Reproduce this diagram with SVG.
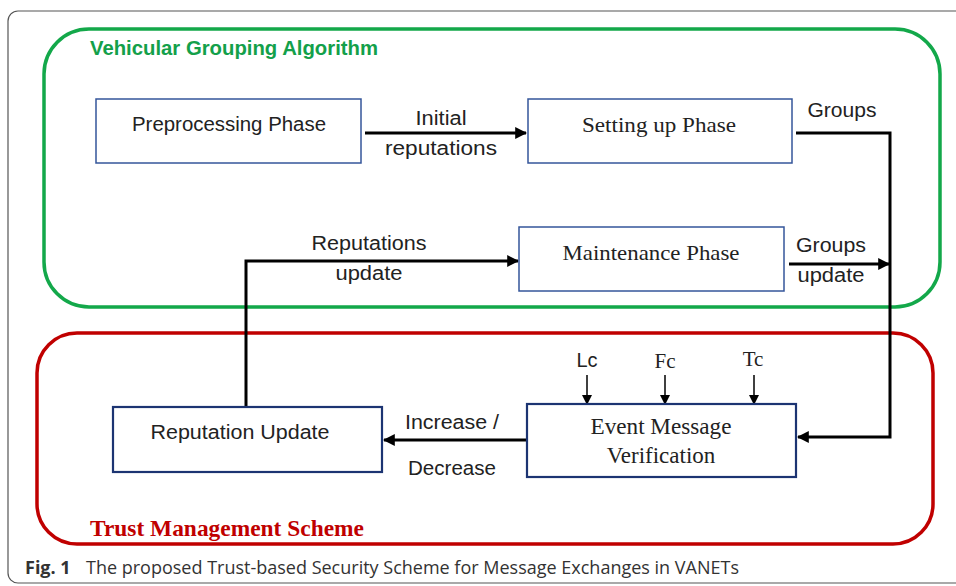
<svg xmlns="http://www.w3.org/2000/svg" width="956" height="586" viewBox="0 0 956 586">
<defs>
<marker id="ah" viewBox="0 0 10 10" refX="9" refY="5" markerWidth="4" markerHeight="4" orient="auto" markerUnits="strokeWidth"><path d="M0,0 L10,5 L0,10 Z" fill="#000"/></marker>
<marker id="ahs" viewBox="0 0 10 10" refX="9" refY="5" markerWidth="7" markerHeight="7" orient="auto" markerUnits="strokeWidth"><path d="M0,0 L10,5 L0,10 Z" fill="#000"/></marker>
<style>
.sans{font-family:"Liberation Sans",Arial,sans-serif;fill:#222;}
.serif{font-family:"Liberation Serif","Times New Roman",serif;fill:#222;}
.box{fill:#fff;stroke:#34569a;stroke-width:1.5;}
.box2{fill:#fff;stroke:#1c3472;stroke-width:2.2;}
.conn{fill:none;stroke:#000;stroke-width:3;}
.thin{fill:none;stroke:#000;stroke-width:1.5;}
</style>
</defs>
<rect x="0" y="0" width="956" height="586" fill="#fff"/>
<rect x="8" y="11" width="970" height="572" rx="10" fill="none" stroke="#555" stroke-width="1.2"/>
<g id="group-vga">
<rect x="44" y="29" width="896" height="278" rx="45" fill="none" stroke="#13a84a" stroke-width="3.5"/>
<text x="90" y="55" font-family="Liberation Sans,Arial,sans-serif" font-weight="bold" font-size="20" fill="#13a04a" textLength="288" lengthAdjust="spacingAndGlyphs">Vehicular Grouping Algorithm</text>
</g>
<g id="group-tms">
<rect x="37" y="333" width="896" height="211" rx="40" fill="none" stroke="#c00000" stroke-width="3.5"/>
<text x="90" y="536" font-family="Liberation Serif,'Times New Roman',serif" font-weight="bold" font-size="23" fill="#c00000" textLength="274" lengthAdjust="spacingAndGlyphs">Trust Management Scheme</text>
</g>
<g id="connectors">
<line class="conn" x1="365" y1="133" x2="526" y2="133" marker-end="url(#ah)"/>
<polyline class="conn" points="796,133 890,133 890,437 798,437" marker-end="url(#ah)"/>
<line class="conn" x1="789" y1="264" x2="889" y2="264" marker-end="url(#ah)"/>
<polyline class="conn" points="246,407 246,261 518,261" marker-end="url(#ah)"/>
<line class="conn" x1="527" y1="440" x2="384" y2="440" marker-end="url(#ah)"/>
<line class="thin" x1="587" y1="375" x2="587" y2="404" marker-end="url(#ahs)"/>
<line class="thin" x1="665" y1="375" x2="665" y2="404" marker-end="url(#ahs)"/>
<line class="thin" x1="754" y1="375" x2="754" y2="404" marker-end="url(#ahs)"/>
<text class="sans" x="441" y="125" font-size="20" text-anchor="middle" textLength="51" lengthAdjust="spacingAndGlyphs">Initial</text>
<text class="sans" x="441" y="155" font-size="20" text-anchor="middle" textLength="112" lengthAdjust="spacingAndGlyphs">reputations</text>
<text class="sans" x="842" y="117" font-size="20" text-anchor="middle" textLength="69" lengthAdjust="spacingAndGlyphs">Groups</text>
<text class="sans" x="831" y="252" font-size="20" text-anchor="middle" textLength="70" lengthAdjust="spacingAndGlyphs">Groups</text>
<text class="sans" x="831" y="282" font-size="20" text-anchor="middle" textLength="67" lengthAdjust="spacingAndGlyphs">update</text>
<text class="sans" x="369" y="250" font-size="20" text-anchor="middle" textLength="115" lengthAdjust="spacingAndGlyphs">Reputations</text>
<text class="sans" x="369" y="280" font-size="20" text-anchor="middle" textLength="67" lengthAdjust="spacingAndGlyphs">update</text>
<text class="sans" x="452" y="429" font-size="20" text-anchor="middle" textLength="94" lengthAdjust="spacingAndGlyphs">Increase /</text>
<text class="sans" x="452" y="475" font-size="20" text-anchor="middle" textLength="88" lengthAdjust="spacingAndGlyphs">Decrease</text>
<text class="sans" x="587" y="367" font-size="20" text-anchor="middle">Lc</text>
<text class="serif" x="665" y="368" font-size="21" text-anchor="middle">Fc</text>
<text class="serif" x="753" y="366" font-size="21" text-anchor="middle">Tc</text>
</g>
<g id="preprocessing">
<rect class="box" x="96" y="99" width="265" height="64"/>
<text class="sans" x="229" y="131" font-size="20" text-anchor="middle" textLength="194" lengthAdjust="spacingAndGlyphs">Preprocessing Phase</text>
</g>
<g id="settingup">
<rect class="box" x="528" y="99" width="264" height="64"/>
<text class="serif" x="659" y="132" font-size="22" text-anchor="middle" textLength="154" lengthAdjust="spacingAndGlyphs">Setting up Phase</text>
</g>
<g id="maintenance">
<rect class="box" x="519" y="227" width="265" height="64"/>
<text class="serif" x="651" y="260" font-size="22" text-anchor="middle" textLength="177" lengthAdjust="spacingAndGlyphs">Maintenance Phase</text>
</g>
<g id="reputation-update">
<rect class="box2" x="113" y="407" width="269" height="65"/>
<text class="sans" x="240" y="439" font-size="20" text-anchor="middle" textLength="179" lengthAdjust="spacingAndGlyphs">Reputation Update</text>
</g>
<g id="event-verification">
<rect class="box2" x="527" y="404" width="269" height="73"/>
<text class="serif" x="661" y="434" font-size="23" text-anchor="middle" textLength="141" lengthAdjust="spacingAndGlyphs">Event Message</text>
<text class="serif" x="661" y="463" font-size="23" text-anchor="middle">Verification</text>
</g>
<g id="caption">
<text x="25" y="574" font-family="Open Sans,sans-serif" font-size="18" fill="#333"><tspan font-weight="bold">Fig. 1</tspan><tspan x="86">The proposed Trust-based Security Scheme for Message Exchanges in VANETs</tspan></text>
</g>
</svg>
